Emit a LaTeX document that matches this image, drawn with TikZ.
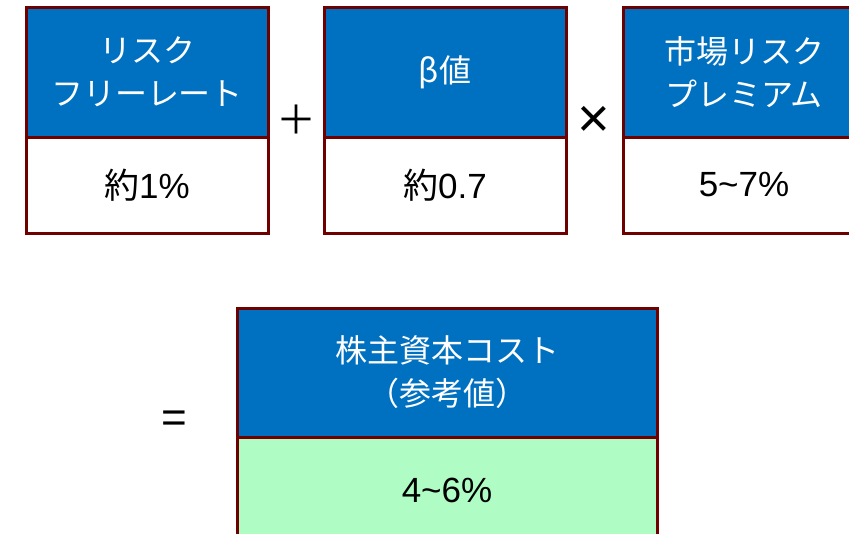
\documentclass[tikz,border=0pt]{standalone}
\usepackage{fontspec}
\setmainfont{Liberation Sans}
\newfontfamily\cjk{Noto Sans CJK JP}
\usetikzlibrary{positioning}
\definecolor{hdblue}{HTML}{0070C0}
\definecolor{edgered}{HTML}{6E0000}
\definecolor{resgreen}{HTML}{AFFCC4}
\tikzset{
  head/.style={draw=edgered, line width=3pt, fill=hdblue, text=white,
    minimum width=242pt, minimum height=130pt, inner sep=0pt, outer sep=0pt,
    align=center, anchor=north west, font=\fontsize{32}{43}\selectfont\cjk},
  val/.style={draw=edgered, line width=3pt, fill=white,
    minimum width=242pt, minimum height=96pt, inner sep=0pt, outer sep=0pt,
    below=0pt of #1, font=\fontsize{35}{40}\selectfont},
  op/.style={font=\fontsize{44}{48}\selectfont}
}
\begin{document}
\begin{tikzpicture}[x=1pt,y=-1pt]
   \useasboundingbox (0,0) rectangle (849,533);
   \clip (0,0) rectangle (849,533);

   % top row
   \node[head] (rf) at (26,7) {リスク\\フリーレート};
   \node[val=rf] (rfv) {{\cjk 約}1\%};
   \node[head] (beta) at (324,7) {β値};
   \node[val=beta] (betav) {{\cjk 約}0.7};
   \node[head] (mrp) at (623,7) {市場リスク\\プレミアム};
   \node[val=mrp] (mrpv) {5\textasciitilde7\%};

   \node[op,font=\fontsize{40}{44}\selectfont\cjk] (plus) at (296,120) {＋};
   \node[op,font=\fontsize{56}{60}\selectfont] (times) at (594,122) {×};

   % result
   \node[head, minimum width=420pt, minimum height=129pt] (coe) at (237,308) {株主資本コスト\\（参考値）};
   \node[val=coe, fill=resgreen, minimum width=420pt, minimum height=106pt] (coev) {4\textasciitilde6\%};
   \node[op] (eq) at (174,422) {=};
\end{tikzpicture}
\end{document}
